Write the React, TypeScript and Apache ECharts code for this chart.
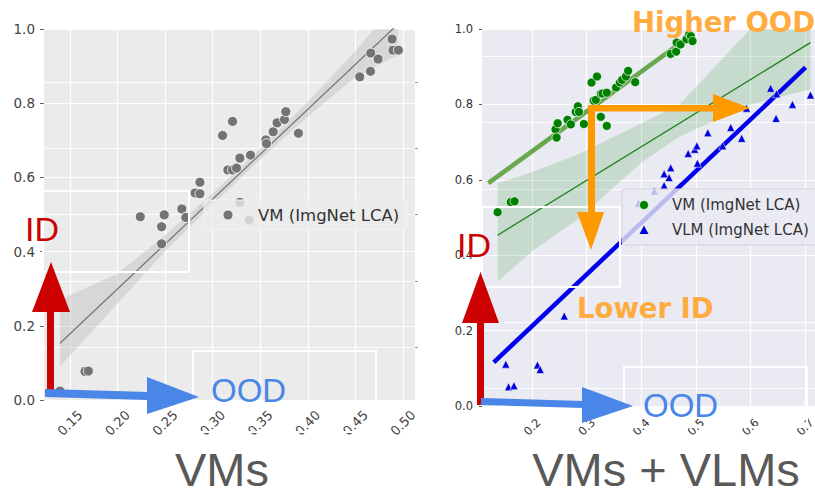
import React, { useEffect, useRef } from "react";
import * as echarts from "echarts";

// ---------- tick values ----------
const leftXTicks = [0.15, 0.2, 0.25, 0.3, 0.35, 0.4, 0.45, 0.5];
const yTicks = [0, 0.2, 0.4, 0.6, 0.8, 1.0];
const rightXTicks = [0.2, 0.3, 0.4, 0.5, 0.6, 0.7];
const leftMinorTicks = [1, 2, 3, 4, 5];
const rightMinorTicks = [1, 2, 3, 4, 5, 6];

// ---------- left panel: VMs ----------
const vmLeftX = [0.1395, 0.1658, 0.1693, 0.2239, 0.2463, 0.2463, 0.2491, 0.2676, 0.2718, 0.2816, 0.2866, 0.2866, 0.3104, 0.316, 0.3209, 0.3209, 0.3251, 0.3286, 0.3286, 0.3383, 0.3398, 0.3559, 0.3566, 0.3636, 0.3678, 0.3755, 0.3769, 0.3902, 0.4546, 0.4659, 0.4662, 0.4739, 0.4886, 0.4896, 0.4952];
const vmLeftY = [0.024, 0.077, 0.078, 0.494, 0.421, 0.467, 0.499, 0.515, 0.492, 0.558, 0.556, 0.587, 0.713, 0.62, 0.62, 0.751, 0.625, 0.652, 0.533, 0.485, 0.66, 0.701, 0.691, 0.723, 0.747, 0.756, 0.777, 0.719, 0.871, 0.886, 0.935, 0.919, 0.973, 0.943, 0.943];
const leftFitX = [0.1395, 0.4952];
const leftFitY = [0.153, 1.014];
const leftBandX = [0.1395, 0.2, 0.25, 0.3, 0.35, 0.4, 0.45, 0.4952];
const leftBandLow = [0.09, 0.26, 0.4, 0.527, 0.648, 0.764, 0.87, 0.93];
const leftBandHigh = [0.27, 0.34, 0.445, 0.557, 0.678, 0.804, 0.94, 1.08];

// ---------- right panel: VMs + VLMs ----------
const vmRightX = [0.137, 0.161, 0.168, 0.243, 0.245, 0.247, 0.265, 0.271, 0.28, 0.284, 0.286, 0.295, 0.309, 0.313, 0.317, 0.319, 0.326, 0.326, 0.329, 0.337, 0.337, 0.354, 0.361, 0.365, 0.372, 0.376, 0.389, 0.454, 0.464, 0.465, 0.472, 0.483, 0.488, 0.491, 0.494];
const vmRightY = [0.514, 0.541, 0.543, 0.734, 0.712, 0.75, 0.759, 0.747, 0.78, 0.795, 0.78, 0.748, 0.858, 0.81, 0.812, 0.874, 0.828, 0.767, 0.829, 0.831, 0.743, 0.845, 0.858, 0.865, 0.874, 0.889, 0.859, 0.934, 0.94, 0.964, 0.959, 0.973, 0.986, 0.981, 0.968];
const vlmX = [0.152, 0.157, 0.167, 0.21, 0.215, 0.259, 0.395, 0.424, 0.442, 0.442, 0.451, 0.454, 0.486, 0.498, 0.502, 0.503, 0.522, 0.549, 0.564, 0.584, 0.593, 0.637, 0.647, 0.648, 0.677, 0.71];
const vlmY = [0.111, 0.051, 0.054, 0.109, 0.097, 0.239, 0.538, 0.57, 0.585, 0.616, 0.606, 0.632, 0.67, 0.681, 0.69, 0.644, 0.725, 0.69, 0.739, 0.71, 0.79, 0.843, 0.763, 0.828, 0.8, 0.825];
const vmFitX = [0.137, 0.71];
const vmFitY = [0.453, 0.964];
const vmTrendX = [0.12, 0.495];
const vmTrendY = [0.591, 0.987];
const vlmTrendX = [0.13, 0.701];
const vlmTrendY = [0.116, 0.898];
const rightBandX = [0.137, 0.2, 0.288, 0.4, 0.47, 0.6, 0.71];
const rightBandLow = [0.33, 0.41, 0.5, 0.645, 0.715, 0.8, 0.84];
const rightBandHigh = [0.591, 0.62, 0.67, 0.75, 0.8, 1.0, 1.12];

const zip = (xs: number[], ys: number[]) => xs.map((x, i) => [x, ys[i]]);

function bandSeries(xs: number[], lo: number[], hi: number[], xi: number, yi: number, fill: string) {
  const rows = xs.map((x, i) => [x, lo[i], hi[i]]);
  return {
    type: "custom",
    xAxisIndex: xi,
    yAxisIndex: yi,
    clip: true,
    silent: true,
    z: 1,
    data: rows,
    encode: { x: 0, y: [1, 2] },
    renderItem: (params: any, api: any) => {
      if (params.dataIndex !== 0) return null;
      const pts: number[][] = [];
      rows.forEach((r) => pts.push(api.coord([r[0], r[2]])));
      for (let i = rows.length - 1; i >= 0; i--) pts.push(api.coord([rows[i][0], rows[i][1]]));
      return { type: "polygon", shape: { points: pts }, style: { fill } };
    },
  };
}

const labelFont = "DejaVu Sans";

function txt(text: string, x: number, y: number, size: number, color: string, opts: any = {}) {
  return {
    type: "text",
    x,
    y,
    z: 120,
    style: {
      text,
      fill: color,
      fontSize: size,
      lineHeight: opts.lineHeight || undefined,
      fontFamily: opts.family || "Liberation Sans",
      fontWeight: opts.weight || "normal",
      textAlign: opts.align || "left",
      align: opts.align || "left",
      textVerticalAlign: "middle",
      verticalAlign: "middle",
    },
  };
}
function poly(points: number[][], color: string, z = 110) {
  return { type: "polygon", z, shape: { points }, style: { fill: color } };
}
function box(x: number, y: number, w: number, h: number) {
  return { type: "rect", z: 105, shape: { x, y, width: w, height: h }, style: { fill: "none", stroke: "#ffffff", lineWidth: 2 } };
}

export default function App() {
  const ref = useRef<HTMLDivElement>(null);
  useEffect(() => {
    document.body.style.margin = "0";
    if (!ref.current) return;
    const chart = echarts.init(ref.current, null, { renderer: "svg" });
    const red = "#cc0000";
    const blue = "#4a86e8";
    const orange = "#ff9900";
    const orangeText = "#ffab40";
    const option: any = {
      animation: false,
      backgroundColor: "#ffffff",
      grid: [
        { left: 44, top: 29, width: 371, height: 371, show: true, backgroundColor: "#ebebeb", borderWidth: 0, outerBoundsMode: "none" },
        { left: 482, top: 29, width: 333, height: 377, show: true, backgroundColor: "#eaeaf2", borderWidth: 0, outerBoundsMode: "none" },
      ],
      xAxis: [
        {
          type: "value", gridIndex: 0, min: 0.1227, max: 0.5127,
          axisLine: { show: false },
          axisTick: { show: false, customValues: leftXTicks },
          axisLabel: { customValues: leftXTicks, rotate: 45, align: "center", verticalAlign: "middle", margin: 23, fontSize: 13, color: "#444", fontFamily: labelFont, formatter: (v: number) => v.toFixed(2) },
          splitLine: { show: true, lineStyle: { color: "#ffffff", width: 1.2 } },
        },
        {
          type: "value", gridIndex: 1, min: 0.1084, max: 0.7183,
          axisLine: { show: false },
          axisTick: { show: false, customValues: rightXTicks },
          axisLabel: { customValues: rightXTicks, rotate: 45, align: "center", verticalAlign: "middle", margin: 21, fontSize: 11.5, color: "#333", fontFamily: labelFont, formatter: (v: number) => v.toFixed(1) },
          splitLine: { show: true, lineStyle: { color: "#ffffff", width: 1.2 } },
        },
      ],
      yAxis: [
        {
          type: "value", gridIndex: 0, min: 0, max: 1, interval: 0.2,
          axisLine: { show: false },
          axisTick: { show: true, length: 4, lineStyle: { color: "#666" } },
          axisLabel: { margin: 9, fontSize: 13.5, color: "#444", fontFamily: labelFont, formatter: (v: number) => v.toFixed(1) },
          splitLine: { show: true, lineStyle: { color: "#ffffff", width: 1.2 } },
        },
        {
          type: "value", gridIndex: 0, position: "right", min: 0.2, max: 5.8,
          axisLine: { show: false },
          axisTick: { show: true, length: 3, customValues: leftMinorTicks, lineStyle: { color: "#999" } },
          axisLabel: { show: false, customValues: leftMinorTicks },
          splitLine: { show: true, lineStyle: { color: "#ffffff", width: 0.9 } },
        },
        {
          type: "value", gridIndex: 1, min: 0, max: 1, interval: 0.2,
          axisLine: { show: false },
          axisTick: { show: true, length: 3, lineStyle: { color: "#555" } },
          axisLabel: { margin: 9, fontSize: 11.5, color: "#333", fontFamily: labelFont, formatter: (v: number) => v.toFixed(1) },
          splitLine: { show: true, lineStyle: { color: "#ffffff", width: 1.2 } },
        },
        {
          type: "value", gridIndex: 1, position: "right", min: 0.737, max: 6.406,
          axisLine: { show: false },
          axisTick: { show: false, customValues: rightMinorTicks },
          axisLabel: { show: false, customValues: rightMinorTicks },
          splitLine: { show: true, lineStyle: { color: "#ffffff", width: 0.9 } },
        },
      ],
      series: [
        bandSeries(leftBandX, leftBandLow, leftBandHigh, 0, 0, "rgba(170,170,170,0.3)"),
        { type: "line", xAxisIndex: 0, yAxisIndex: 0, data: zip(leftFitX, leftFitY), showSymbol: false, lineStyle: { color: "#777777", width: 1.3 }, z: 2, silent: true },
        { type: "scatter", name: "VM (ImgNet LCA)", xAxisIndex: 0, yAxisIndex: 0, data: zip(vmLeftX, vmLeftY), symbol: "circle", symbolSize: 10, itemStyle: { color: "#737373", borderColor: "#ffffff", borderWidth: 0.8, opacity: 1 }, z: 3 },
        bandSeries(rightBandX, rightBandLow, rightBandHigh, 1, 2, "rgba(0,128,0,0.15)"),
        { type: "line", xAxisIndex: 1, yAxisIndex: 2, data: zip(vmFitX, vmFitY), showSymbol: false, lineStyle: { color: "#1c801c", width: 1.3 }, z: 2, silent: true },
        { type: "line", xAxisIndex: 1, yAxisIndex: 2, data: zip(vmTrendX, vmTrendY), showSymbol: false, lineStyle: { color: "#6aa84f", width: 4.5 }, z: 2, silent: true },
        { type: "line", xAxisIndex: 1, yAxisIndex: 2, data: zip(vlmTrendX, vlmTrendY), showSymbol: false, lineStyle: { color: "#0000ee", width: 4.5 }, z: 2, silent: true },
        { type: "scatter", name: "VM (ImgNet LCA) ", xAxisIndex: 1, yAxisIndex: 2, data: zip(vmRightX, vmRightY), symbol: "circle", symbolSize: 9, itemStyle: { color: "#008000", borderColor: "#ffffff", borderWidth: 0.7, opacity: 1 }, z: 3 },
        { type: "scatter", name: "VLM (ImgNet LCA)", xAxisIndex: 1, yAxisIndex: 2, data: zip(vlmX, vlmY), symbol: "triangle", symbolSize: 8, itemStyle: { color: "#0000dd", borderColor: "#ffffff", borderWidth: 0.5, opacity: 1 }, z: 3 },
      ],
      graphic: [
        // white highlight rectangles
        box(43, 191, 146, 81),
        box(193, 351, 183, 81),
        box(482, 207, 138, 80),
        box(624, 367, 183, 60),
        // left legend
        { type: "rect", z: 108, shape: { x: 204, y: 200, width: 203, height: 29, r: 3 }, style: { fill: "rgba(235,235,235,0.8)", stroke: "#f3f3f3", lineWidth: 1 } },
        { type: "circle", z: 109, shape: { cx: 228, cy: 215, r: 5 }, style: { fill: "#737373", stroke: "#ffffff", lineWidth: 0.8 } },
        { ...txt("VM (ImgNet LCA)", 258, 215, 16.5, "#333333", { family: labelFont }), z: 109 },
        // right legend
        { type: "rect", z: 108, shape: { x: 622, y: 189, width: 200, height: 56, r: 3 }, style: { fill: "rgba(234,234,242,0.8)", stroke: "#d2d2da", lineWidth: 1 } },
        { type: "circle", z: 109, shape: { cx: 644, cy: 205, r: 4.5 }, style: { fill: "#008000", stroke: "#ffffff", lineWidth: 0.7 } },
        { type: "polygon", z: 109, shape: { points: [[644, 225.5], [648.5, 234], [639.5, 234]] }, style: { fill: "#0000dd" } },
        { ...txt("VM (ImgNet LCA)", 672, 205, 15, "#333333", { family: labelFont }), z: 109 },
        { ...txt("VLM (ImgNet LCA)", 672, 230, 15, "#333333", { family: labelFont }), z: 109 },
        // left arrows
        { type: "rect", z: 110, shape: { x: 47, y: 310, width: 7, height: 86 }, style: { fill: red } },
        poly([[32, 312], [70, 312], [51, 262]], red),
        poly([[45, 389], [148, 392], [148, 400], [45, 397]], blue, 111),
        poly([[147, 377], [147, 414], [199, 397]], blue, 111),
        // right arrows
        { type: "rect", z: 110, shape: { x: 477, y: 321, width: 7, height: 84 }, style: { fill: red } },
        poly([[462, 323], [499, 323], [480.5, 272]], red),
        poly([[481, 398], [583, 401], [583, 408], [481, 405]], blue, 111),
        poly([[582, 387], [582, 423], [633, 406]], blue, 111),
        // orange arrows
        { type: "rect", z: 110, shape: { x: 588, y: 105, width: 126, height: 6.5 }, style: { fill: orange } },
        poly([[713, 94], [713, 122], [750, 108]], orange),
        { type: "rect", z: 110, shape: { x: 588, y: 105, width: 7, height: 108 }, style: { fill: orange } },
        poly([[577, 212], [604, 212], [591, 250]], orange),
        // texts
        txt("ID", 25, 229, 34, red, { lineHeight: 28 }),
        txt("OOD", 211, 390, 33, blue, { lineHeight: 28 }),
        txt("ID", 457, 245, 34, red, { lineHeight: 28 }),
        txt("OOD", 643, 405, 33, blue, { lineHeight: 28 }),
        txt("Higher OOD", 632, 22, 27.5, orangeText, { family: labelFont, weight: "bold", lineHeight: 26 }),
        txt("Lower ID", 577, 308, 27.5, orangeText, { family: labelFont, weight: "bold", lineHeight: 26 }),
        txt("VMs", 222, 469, 47, "#595959", { align: "center", lineHeight: 38 }),
        txt("VMs + VLMs", 666, 469, 47, "#595959", { align: "center", lineHeight: 38 }),
      ],
    };
    chart.setOption(option);
    return () => chart.dispose();
  }, []);
  return <div ref={ref} style={{ width: 815, height: 489 }} />;
}
